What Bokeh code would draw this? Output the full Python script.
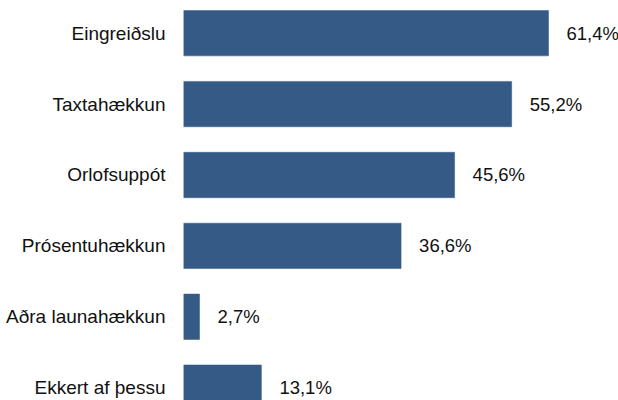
from bokeh.plotting import figure
from bokeh.models import ColumnDataSource, Range1d, FixedTicker
from bokeh.core.properties import value
from bokeh.embed import file_html
from bokeh.resources import INLINE

categories = ["Eingreiðslu", "Taxtahækkun", "Orlofsuppót", "Prósentuhækkun",
              "Aðra launahækkun", "Ekkert af þessu"]
values = [61.4, 55.2, 45.6, 36.6, 2.7, 13.1]

idx = list(range(len(categories)))
labels = [f"{v:.1f}".replace(".", ",") + "%" for v in values]
src = ColumnDataSource(dict(y=idx, v=values, label=labels))

FONT = "Liberation Sans"
BAR = "#365A86"

p = figure(width=618, height=400, output_backend="svg", toolbar_location=None,
           x_range=Range1d(0, 73.17), y_range=Range1d(start=5.181, end=-0.461),
           min_border=0, min_border_left=183)
p.outline_line_color = None
p.grid.visible = False
p.xaxis.visible = False

p.hbar(y="y", left=0, right="v", height=0.64, source=src,
       fill_color=BAR, line_color=BAR, line_width=0.5)
p.text(x="v", y="y", text="label", source=src, x_offset=18,
       text_align="left", text_baseline="middle",
       text_font=value(FONT), text_font_size="18.5px", text_color="#111111")

ya = p.yaxis[0]
ya.ticker = FixedTicker(ticks=idx)
ya.major_label_overrides = {i: c for i, c in zip(idx, categories)}
ya.axis_line_color = None
ya.major_tick_line_color = None
ya.minor_tick_line_color = None
ya.major_tick_out = 0
ya.major_tick_in = 0
ya.major_label_standoff = 18
ya.major_label_text_font = FONT
ya.major_label_text_font_size = "19px"
ya.major_label_text_color = "#111111"

open("out.html", "w").write(file_html(p, INLINE))
